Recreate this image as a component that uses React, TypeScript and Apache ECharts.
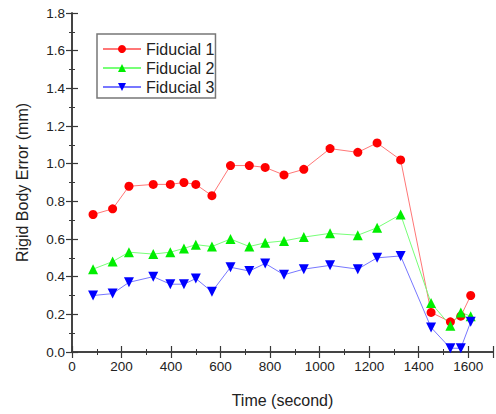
import React, { useEffect, useRef } from "react";
import * as echarts from "echarts";

const times = [85, 164, 230, 328, 397, 452, 500, 565, 640, 716, 780, 856, 936, 1042, 1154, 1232, 1327, 1450, 1528, 1570, 1610];
const fiducial1 = [0.73, 0.76, 0.88, 0.89, 0.89, 0.9, 0.89, 0.83, 0.99, 0.99, 0.98, 0.94, 0.97, 1.08, 1.06, 1.11, 1.02, 0.21, 0.16, 0.19, 0.3];
const fiducial2 = [0.44, 0.48, 0.53, 0.52, 0.53, 0.55, 0.57, 0.56, 0.6, 0.56, 0.58, 0.59, 0.61, 0.63, 0.62, 0.66, 0.73, 0.26, 0.14, 0.21, 0.19];
const fiducial3 = [0.3, 0.31, 0.37, 0.4, 0.36, 0.36, 0.39, 0.32, 0.45, 0.43, 0.47, 0.41, 0.44, 0.46, 0.44, 0.5, 0.51, 0.13, 0.02, 0.02, 0.16];
const seriesNames = ["Fiducial 1", "Fiducial 2", "Fiducial 3"];

const FONT = "'Liberation Sans', Arial, sans-serif";
const AXIS_COLOR = "#383838";
const TEXT_COLOR = "#222";

const pair = (ys: number[]) => times.map((t, i) => [t, ys[i]]);

export default function App() {
  const ref = useRef<HTMLDivElement>(null);
  useEffect(() => {
    if (!ref.current) return;
    const chart = echarts.init(ref.current, undefined, { renderer: "svg" });
    const baseAxisLine = { show: true, lineStyle: { color: AXIS_COLOR, width: 1.5 } };
    const tick = { show: true, inside: true, length: 6, lineStyle: { color: AXIS_COLOR, width: 1.2 } };
    const minorTick = { show: true, splitNumber: 2, length: 3, lineStyle: { color: AXIS_COLOR, width: 1 } };
    chart.setOption({
      animation: false,
      textStyle: { fontFamily: FONT },
      grid: { left: 72, right: 3, top: 13, bottom: 62 },
      legend: {
        orient: "vertical",
        left: 97,
        top: 34,
        data: seriesNames,
        borderColor: "#777",
        borderWidth: 1.5,
        padding: [7, 1, 3, 5],
        itemGap: 3,
        itemWidth: 38,
        itemHeight: 10,
        textStyle: { fontSize: 16, color: TEXT_COLOR, fontFamily: FONT },
      },
      xAxis: [
        {
          type: "value",
          min: 0,
          max: 1700,
          interval: 200,
          name: "Time (second)",
          nameLocation: "middle",
          nameGap: 40,
          nameTextStyle: { fontSize: 16, color: TEXT_COLOR, fontFamily: FONT },
          axisLine: baseAxisLine,
          axisTick: tick,
          minorTick,
          splitLine: { show: false },
          axisLabel: {
            fontSize: 13.5,
            color: TEXT_COLOR,
            margin: 7,
            showMaxLabel: false,
            fontFamily: FONT,
            formatter: (v: number) => String(v),
          },
        },
        {
          type: "value",
          position: "top",
          min: 0,
          max: 1700,
          interval: 200,
          axisLine: baseAxisLine,
          axisTick: tick,
          minorTick,
          splitLine: { show: false },
          axisLabel: { show: false },
        },
      ],
      yAxis: [
        {
          type: "value",
          min: 0,
          max: 1.8,
          interval: 0.2,
          name: "Rigid Body Error (mm)",
          nameLocation: "middle",
          nameGap: 42,
          nameTextStyle: { fontSize: 16, color: TEXT_COLOR, fontFamily: FONT },
          axisLine: baseAxisLine,
          axisTick: tick,
          minorTick,
          splitLine: { show: false },
          axisLabel: {
            fontSize: 13.5,
            color: TEXT_COLOR,
            margin: 7,
            fontFamily: FONT,
            formatter: (v: number) => v.toFixed(1),
          },
        },
        {
          type: "value",
          position: "right",
          min: 0,
          max: 1.8,
          interval: 0.2,
          axisLine: baseAxisLine,
          axisTick: tick,
          minorTick,
          splitLine: { show: false },
          axisLabel: { show: false },
        },
      ],
      series: [
        {
          name: seriesNames[0],
          type: "line",
          data: pair(fiducial1),
          symbol: "circle",
          symbolSize: 9,
          itemStyle: { color: "#ff0000" },
          lineStyle: { color: "#ff7777", width: 1 },
        },
        {
          name: seriesNames[1],
          type: "line",
          data: pair(fiducial2),
          symbol: "triangle",
          symbolSize: 10,
          itemStyle: { color: "#00ee00" },
          lineStyle: { color: "#77ff77", width: 1 },
        },
        {
          name: seriesNames[2],
          type: "line",
          data: pair(fiducial3),
          symbol: "triangle",
          symbolRotate: 180,
          symbolSize: 10,
          itemStyle: { color: "#0000ff" },
          lineStyle: { color: "#7777ff", width: 1 },
        },
      ],
    });
    return () => chart.dispose();
  }, []);
  return <div ref={ref} style={{ width: 496, height: 414, position: "absolute", left: 0, top: 0 }} />;
}
